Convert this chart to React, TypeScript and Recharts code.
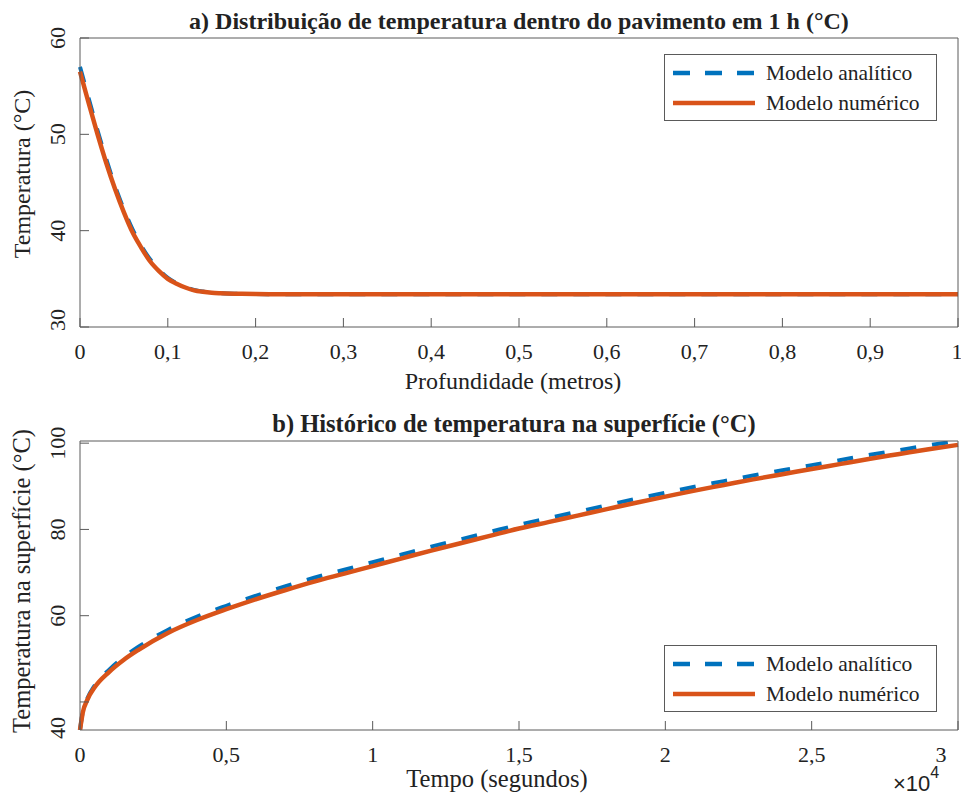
import { LineChart, Line, XAxis, YAxis, Legend } from 'recharts';

const nomeAnalitico = 'Modelo analítico';
const nomeNumerico = 'Modelo numérico';

// a) perfil de temperatura em 1 h
const profundidade = [0, 0.01, 0.02, 0.03, 0.04, 0.05, 0.06, 0.07, 0.08, 0.09, 0.1, 0.11, 0.12, 0.13, 0.14, 0.15, 0.16, 0.18, 0.2, 0.25, 0.3, 0.4, 0.5, 0.6, 0.7, 0.8, 0.9, 1];
const perfilAnalitico = [57.0, 53.7, 50.4, 47.4, 44.6, 42.2, 40.1, 38.4, 37.0, 35.95, 35.1, 34.55, 34.15, 33.85, 33.68, 33.57, 33.5, 33.45, 33.42, 33.4, 33.4, 33.4, 33.4, 33.4, 33.4, 33.4, 33.4, 33.4];
const perfilNumerico = [56.5, 53.2, 50.0, 47.0, 44.3, 41.9, 39.8, 38.2, 36.8, 35.8, 35.0, 34.5, 34.1, 33.8, 33.65, 33.55, 33.5, 33.45, 33.42, 33.4, 33.4, 33.4, 33.4, 33.4, 33.4, 33.4, 33.4, 33.4];
const ticksProfundidade = [0, 0.1, 0.2, 0.3, 0.4, 0.5, 0.6, 0.7, 0.8, 0.9, 1];
const ticksPerfil = [30, 40, 50, 60];

// b) historico na superficie
const tempo = [0, 100, 250, 500, 1000, 1500, 2000, 3000, 4000, 5000, 6000, 7000, 8000, 9000, 10000, 11000, 12000, 13000, 14000, 15000, 16000, 17000, 18000, 19000, 20000, 21000, 22000, 23000, 24000, 25000, 26000, 27000, 28000, 29000, 30000];
const superficieAnalitico = [33.5, 37.9, 40.8, 43.8, 47.5, 50.4, 52.8, 56.7, 59.8, 62.3, 64.6, 66.8, 68.8, 70.6, 72.4, 74.2, 76.0, 77.7, 79.4, 81.1, 82.6, 84.1, 85.6, 87.1, 88.5, 89.9, 91.2, 92.5, 93.7, 94.9, 96.1, 97.3, 98.4, 99.5, 100.5];
const superficieNumerico = [33.5, 37.7, 40.5, 43.4, 47.0, 49.8, 52.1, 56.0, 59.0, 61.5, 63.8, 65.9, 67.9, 69.7, 71.5, 73.3, 75.1, 76.8, 78.5, 80.2, 81.7, 83.2, 84.7, 86.2, 87.6, 89.0, 90.3, 91.6, 92.8, 94.0, 95.2, 96.4, 97.5, 98.6, 99.6];
const ticksTempo = [0, 5000, 10000, 15000, 20000, 25000, 30000];
const ticksSuperficie = [40, 60, 80, 100];

const dadosPerfil = profundidade.map((x, i) => ({ x, analitico: perfilAnalitico[i], numerico: perfilNumerico[i] }));
const dadosSuperficie = tempo.map((x, i) => ({ x, analitico: superficieAnalitico[i], numerico: superficieNumerico[i] }));

const serif = '"Liberation Serif", "Times New Roman", serif';
const corEixo = '#5a5a5a';
const corTexto = '#222';
const azul = '#0072BD';
const laranja = '#D95319';

function TickX(props: any) {
  const { x, y, payload, escala } = props;
  const v = String(payload.value / escala).replace('.', ',');
  return (
    <text x={x} y={y + 32} textAnchor="middle" fontFamily={serif} fontSize={22} fill={corTexto}>
      {v}
    </text>
  );
}

function TickY(props: any) {
  const { x, y, payload, baixo, ajuste } = props;
  // o rótulo mais baixo é deslocado como no original
  const yy = payload.value === baixo ? y + ajuste : y;
  return (
    <text transform={`translate(${x - 15},${yy}) rotate(-90)`} textAnchor="middle" fontFamily={serif} fontSize={22} fill={corTexto}>
      {payload.value}
    </text>
  );
}

function Legenda({ payload }: any) {
  return (
    <div style={{ width: 273, height: 67, border: `1.3px solid ${corEixo}`, background: '#fff', boxSizing: 'border-box' }}>
      <svg width={271} height={65} style={{ display: 'block' }}>
        {(payload || []).map((e: any, i: number) => {
          const cy = 18 + i * 30;
          const tracejado = e.value === nomeAnalitico;
          return (
            <g key={e.value}>
              <line x1={8} x2={90} y1={cy} y2={cy} stroke={e.color} strokeWidth={4.5} strokeDasharray={tracejado ? '17 15' : undefined} />
              <text x={101} y={cy + 7} fontFamily={serif} fontSize={21.5} fill={corTexto}>{e.value}</text>
            </g>
          );
        })}
      </svg>
    </div>
  );
}

export default function App() {
  return (
    <div style={{ position: 'absolute', left: 0, top: 0, width: 961, height: 804, background: '#fff' }}>
      <div style={{ position: 'absolute', left: 0, top: 0 }}>
        <LineChart width={961} height={400} data={dadosPerfil} margin={{ top: 0, right: 0, bottom: 0, left: 0 }}>
          <XAxis xAxisId="topo" orientation="top" dataKey="x" type="number" domain={[0, 1]} ticks={ticksProfundidade} height={38} tick={false} tickSize={-9} stroke={corEixo} />
          <XAxis xAxisId="x" dataKey="x" type="number" domain={[0, 1]} ticks={ticksProfundidade} height={73} tickSize={-9} tickMargin={9} stroke={corEixo} tick={(p: any) => <TickX {...p} escala={1} />} />
          <YAxis yAxisId="y" type="number" domain={[30, 60]} ticks={ticksPerfil} width={80} tickSize={-9} tickMargin={9} stroke={corEixo} tick={(p: any) => <TickY {...p} baixo={30} ajuste={-7} />} />
          <YAxis yAxisId="dir" orientation="right" type="number" domain={[30, 60]} ticks={ticksPerfil} width={3} tick={false} tickSize={-9} stroke={corEixo} />
          <Legend layout="horizontal" verticalAlign="middle" align="center" content={<Legenda />} wrapperStyle={{ position: 'absolute', left: 664, top: 54, width: 273, height: 67 }} />
          <Line xAxisId="x" yAxisId="y" type="monotone" dataKey="analitico" name={nomeAnalitico} stroke={azul} strokeWidth={4} strokeDasharray="16 16" dot={false} isAnimationActive={false} />
          <Line xAxisId="x" yAxisId="y" type="monotone" dataKey="numerico" name={nomeNumerico} stroke={laranja} strokeWidth={4.5} dot={false} isAnimationActive={false} />
        </LineChart>
      </div>
      <div style={{ position: 'absolute', left: 0, top: 400 }}>
        <LineChart width={961} height={404} data={dadosSuperficie} margin={{ top: 0, right: 0, bottom: 0, left: 0 }}>
          <XAxis xAxisId="topo" orientation="top" dataKey="x" type="number" domain={[0, 30000]} ticks={ticksTempo} height={41} tick={false} tickSize={-9} stroke={corEixo} />
          <XAxis xAxisId="x" dataKey="x" type="number" domain={[0, 30000]} ticks={ticksTempo} height={74} tickSize={-9} tickMargin={9} stroke={corEixo} tick={(p: any) => <TickX {...p} escala={10000} />} />
          <YAxis yAxisId="y" type="number" domain={[33.5, 100.5]} allowDataOverflow ticks={ticksSuperficie} width={80} tickSize={-9} tickMargin={9} stroke={corEixo} tick={(p: any) => <TickY {...p} baixo={40} ajuste={26} />} />
          <YAxis yAxisId="dir" orientation="right" type="number" domain={[33.5, 100.5]} allowDataOverflow ticks={ticksSuperficie} width={3} tick={false} tickSize={-9} stroke={corEixo} />
          <Legend layout="horizontal" verticalAlign="middle" align="center" content={<Legenda />} wrapperStyle={{ position: 'absolute', left: 664, top: 245, width: 273, height: 67 }} />
          <Line xAxisId="x" yAxisId="y" type="monotone" dataKey="analitico" name={nomeAnalitico} stroke={azul} strokeWidth={4} strokeDasharray="16 16" dot={false} isAnimationActive={false} />
          <Line xAxisId="x" yAxisId="y" type="monotone" dataKey="numerico" name={nomeNumerico} stroke={laranja} strokeWidth={4.5} dot={false} isAnimationActive={false} />
        </LineChart>
      </div>
      <svg width={961} height={804} style={{ position: 'absolute', left: 0, top: 0, pointerEvents: 'none' }}>
        <g fontFamily={serif} fill={corTexto}>
          <text x={519} y={29} textAnchor="middle" fontSize={24} fontWeight="bold">a) Distribuição de temperatura dentro do pavimento em 1 h (°C)</text>
          <text x={513} y={389} textAnchor="middle" fontSize={24}>Profundidade (metros)</text>
          <text transform="translate(30,174) rotate(-90)" textAnchor="middle" fontSize={24}>Temperatura (°C)</text>
          <text x={514} y={432} textAnchor="middle" fontSize={24.5} fontWeight="bold">b) Histórico de temperatura na superfície (°C)</text>
          <text x={497} y={787} textAnchor="middle" fontSize={24.5}>Tempo (segundos)</text>
          <text transform="translate(30,581) rotate(-90)" textAnchor="middle" fontSize={24.5}>Temperatura na superfície (°C)</text>
        </g>
        <text x={893} y={791} fontFamily='"Liberation Sans", Arial, sans-serif' fontSize={22} fill={corTexto}>
          ×10<tspan fontSize={16} dy={-13}>4</tspan>
        </text>
      </svg>
    </div>
  );
}
